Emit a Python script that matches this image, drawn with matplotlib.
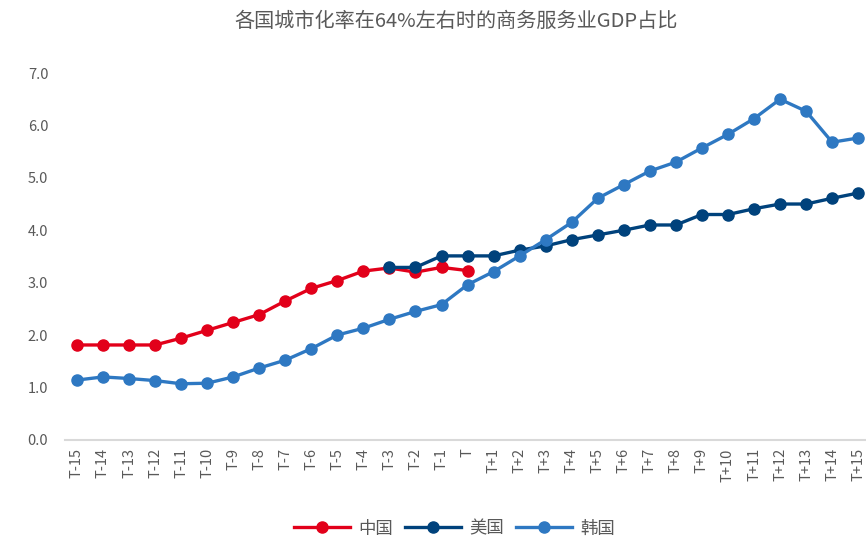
import matplotlib
matplotlib.use("Agg")
import matplotlib.pyplot as plt

plt.rcParams["font.family"] = ["Noto Sans CJK SC", "DejaVu Sans"]

# 横轴：以城市化率约64%的年份为T
periods = [f"T-{i}" for i in range(15, 0, -1)] + ["T"] + [f"T+{i}" for i in range(1, 16)]

# 商务服务业占GDP比重（%）
china = [1.81, 1.81, 1.81, 1.81, 1.94, 2.09, 2.24, 2.39, 2.65, 2.89, 3.04, 3.22,
         3.28, 3.20, 3.29, 3.23]
usa = [3.29, 3.29, 3.51, 3.51, 3.51, 3.62, 3.70, 3.82, 3.91, 4.00, 4.10, 4.10,
       4.30, 4.30, 4.41, 4.50, 4.50, 4.61, 4.71]
korea = [1.14, 1.20, 1.17, 1.13, 1.07, 1.08, 1.20, 1.37, 1.52, 1.74, 2.00, 2.13,
         2.30, 2.45, 2.58, 2.96, 3.21, 3.51, 3.82, 4.15, 4.61, 4.87, 5.13, 5.30,
         5.57, 5.83, 6.13, 6.50, 6.27, 5.68, 5.76]

series = [
    ("中国", china, 0, "#E2001A"),
    ("美国", usa, 12, "#00427C"),
    ("韩国", korea, 0, "#2E78C2"),
]

fig = plt.figure(figsize=(8.66, 5.45), dpi=100)
ax = fig.add_axes([0.075, 0.193, 0.925, 0.673])

x_all = list(range(len(periods)))
for name, vals, start, color in series:
    xs = x_all[start:start + len(vals)]
    ax.plot(xs, vals, color=color, lw=2.4, marker="o", ms=8,
            label=name, clip_on=False, zorder=3)

ax.set_xlim(-0.46, 30.3)
ax.set_ylim(0, 7)
ax.set_yticks([0, 1, 2, 3, 4, 5, 6, 7])
ax.set_yticklabels([f"{v:.1f}" for v in range(8)])
ax.set_xticks(x_all)
ax.set_xticklabels(periods, rotation=90)

for side in ["top", "right", "left"]:
    ax.spines[side].set_visible(False)
ax.spines["bottom"].set_color("#D9D9D9")
ax.spines["bottom"].set_linewidth(1.5)
ax.tick_params(axis="both", length=0, colors="#595959", labelsize=10.5)
ax.tick_params(axis="y", pad=12)
ax.tick_params(axis="x", pad=6)

fig.suptitle("各国城市化率在64%左右时的商务服务业GDP占比", x=0.527, y=0.98,
             fontsize=14.5, color="#595959")

fig.legend(loc="lower center", bbox_to_anchor=(0.525, -0.015), ncol=3, frameon=False,
           fontsize=12.5, labelcolor="#595959", handlelength=3.2, columnspacing=0.7,
           handletextpad=0.5)

fig.savefig("out.png", dpi=100)
